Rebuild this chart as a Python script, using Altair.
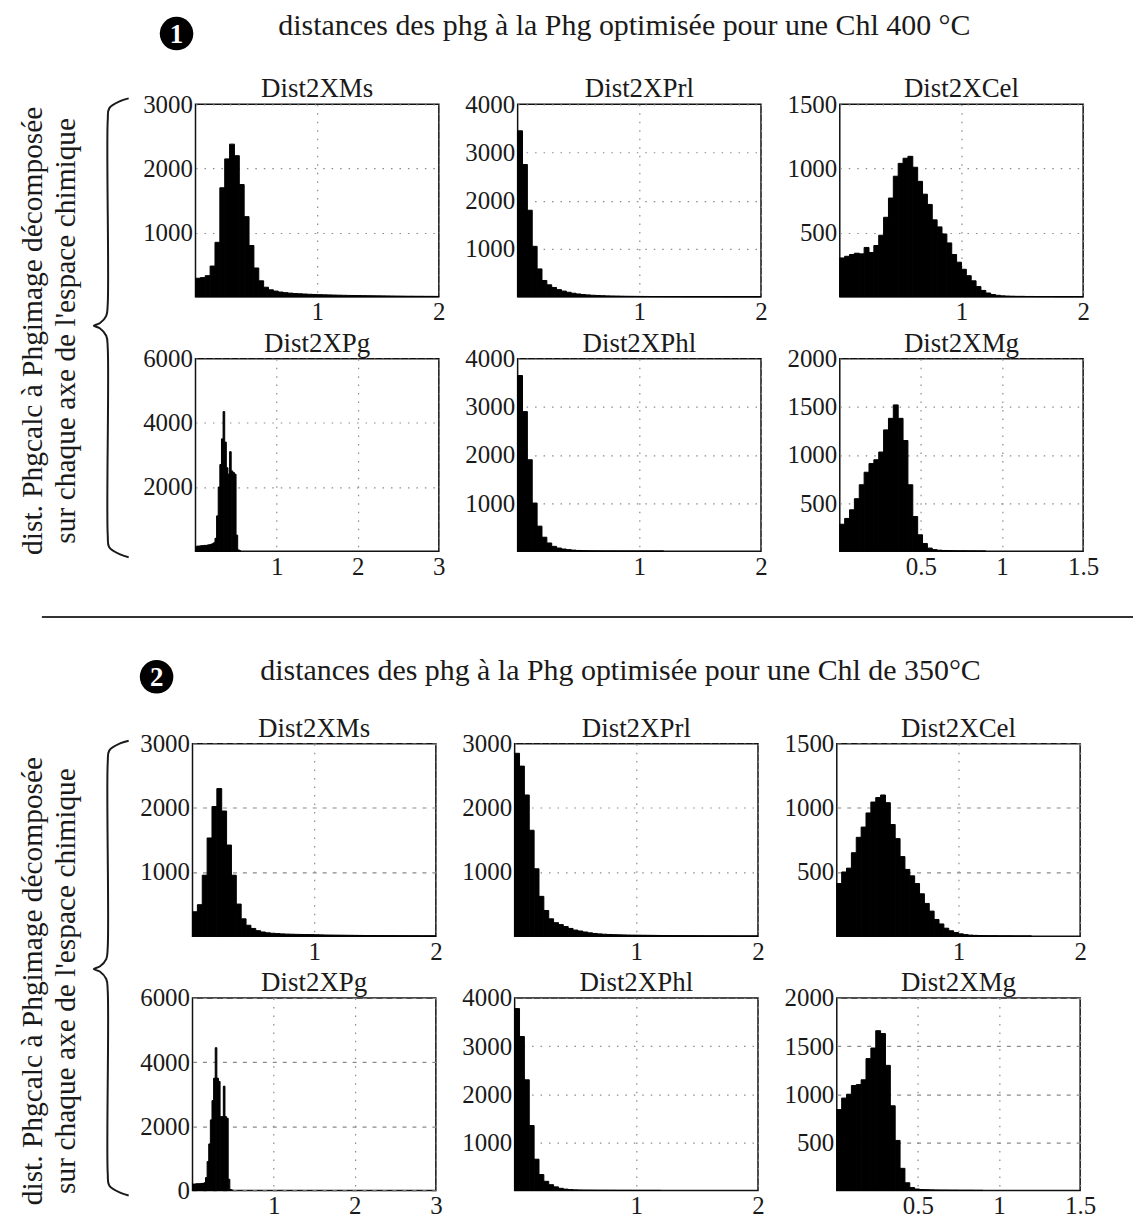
import altair as alt
import pandas as pd

FONT = "Liberation Serif"
INK = "#1a1a1a"

# ---------------- texts ----------------
section_titles = [
    "distances des phg à la Phg optimisée pour une Chl 400 °C",
    "distances des phg à la Phg optimisée pour une Chl de 350°C",
]
section_numbers = ["1", "2"]
side_label_1 = "dist. Phgcalc à Phgimage décomposée"
side_label_2 = "sur chaque axe de l'espace chimique"

# ---------------- panel definitions ----------------
panel_names = ["Dist2XMs", "Dist2XPrl", "Dist2XCel", "Dist2XPg", "Dist2XPhl", "Dist2XMg"]
x_max = [2, 2, 2, 3, 2, 1.5]
x_ticks = [[1, 2], [1, 2], [1, 2], [1, 2, 3], [1, 2], [0.5, 1, 1.5]]
bin_width = [0.04, 0.04, 0.04, 0.02, 0.04, 0.03]

s1_y_max = [3000, 4000, 1500, 6000, 4000, 2000]
s1_y_ticks = [[1000, 2000, 3000], [1000, 2000, 3000, 4000], [500, 1000, 1500],
              [2000, 4000, 6000], [1000, 2000, 3000, 4000], [500, 1000, 1500, 2000]]
s2_y_max = [3000, 3000, 1500, 6000, 4000, 2000]
s2_y_ticks = [[1000, 2000, 3000], [1000, 2000, 3000], [500, 1000, 1500],
              [0, 2000, 4000, 6000], [1000, 2000, 3000, 4000], [500, 1000, 1500, 2000]]

# ---------------- histogram counts ----------------
s1_xms = [290, 300, 330, 480, 850, 1700, 2150, 2380, 2200, 1750, 1250, 800, 450, 250, 150,
          110, 90, 75, 65, 58, 52, 48, 44, 40, 37, 34, 32, 30, 28, 26, 24, 22, 21, 20, 19,
          18, 17, 16, 15, 14, 13, 12, 11, 10, 10, 9, 9, 8, 8, 7]
s1_xprl = [3450, 2750, 1800, 1050, 580, 340, 250, 195, 150, 120, 95, 75, 60, 48, 40, 33, 28,
           24, 20, 18, 16, 14, 12, 11, 10, 9, 8, 7, 6, 6, 5, 5, 4, 4, 3, 3, 3, 2, 2, 2, 2, 2,
           1, 1, 1, 1, 1, 1, 1, 1]
s1_xcel = [303, 316, 330, 340, 335, 385, 345, 400, 480, 620, 770, 940, 1040, 1080, 1095,
           1010, 900, 800, 720, 600, 545, 490, 420, 330, 270, 215, 165, 125, 80, 50, 30, 18,
           12, 8, 6, 5, 4, 4, 3, 3, 2, 2, 2, 2, 1, 1, 1, 1, 1, 1]
s1_xpg = [150, 160, 160, 170, 170, 180, 180, 190, 200, 210, 230, 260, 400, 1100, 2000, 2700,
          3500, 4350, 3400, 2600, 2400, 3100, 2500, 2450, 2400, 500, 40, 10]
s1_xphl = [3650, 2900, 1900, 1000, 520, 290, 170, 100, 65, 45, 32, 22, 15, 10, 8, 6, 5, 4, 3,
           3, 2, 2, 2, 1, 1, 1, 1, 1, 1, 1]
s1_xmg = [280, 340, 430, 545, 690, 820, 910, 950, 1030, 1260, 1380, 1520, 1380, 1150, 690,
          360, 170, 80, 32, 16, 10, 7, 5, 4, 3, 3, 2, 2, 1, 1]

s2_xms = [380, 490, 950, 1530, 2020, 2300, 1950, 1420, 950, 500, 270, 170, 120, 85, 65, 52,
          45, 40, 35, 32, 30, 28, 26, 25, 24, 22, 20, 18, 17, 16, 15, 14, 13, 12, 11, 10, 10,
          9, 8, 8, 7, 7, 6, 6, 5, 5, 5, 4, 4, 4]
s2_xprl = [2850, 2650, 2200, 1650, 1050, 620, 400, 270, 210, 180, 150, 120, 95, 80, 65, 52,
           42, 35, 30, 26, 23, 21, 19, 17, 16, 15, 14, 13, 12, 11, 10, 9, 8, 8, 7, 6, 6, 5, 5,
           4, 4, 4, 3, 3, 3, 2, 2, 2, 2, 2]
s2_xcel = [410, 500, 530, 650, 770, 850, 960, 1045, 1080, 1100, 1040, 870, 760, 620, 520, 470,
           410, 330, 255, 195, 130, 95, 62, 42, 28, 18, 12, 8, 6, 5, 4, 3, 3, 2, 2, 2, 1, 1,
           1, 1]
s2_xpg = [200, 200, 210, 210, 210, 220, 220, 240, 400, 900, 1450, 2200, 2800, 3500, 4450,
          3500, 3400, 2300, 2300, 3250, 2300, 2250, 350, 30, 10]
s2_xphl = [3780, 3200, 2300, 1350, 650, 330, 190, 120, 75, 45, 28, 18, 12, 9, 7, 6, 5, 4, 4,
           3, 3, 2, 2, 2, 1, 1, 1, 1, 1, 1]
s2_xmg = [840, 960, 1000, 1090, 1100, 1150, 1370, 1480, 1660, 1630, 1300, 880, 520, 230, 80,
          30, 15, 10, 8, 6, 5, 4, 4, 3, 3, 2, 2, 2, 1, 1]

s1_counts = [s1_xms, s1_xprl, s1_xcel, s1_xpg, s1_xphl, s1_xmg]
s2_counts = [s2_xms, s2_xprl, s2_xcel, s2_xpg, s2_xphl, s2_xmg]

DOT = [1.5, 7]
DASH = [4, 6]
s1_ydash = [DOT, DOT, DOT, DOT, DOT, DOT]
s2_ydash = [DASH, DOT, DASH, DASH, DOT, DASH]

PW, PH = 244, 193


def panel(name, counts, w, xmax, xt, ymax, yt, ydash):
    df = pd.DataFrame({
        "x0": [round(i * w, 4) for i in range(len(counts))],
        "x1": [round((i + 1) * w, 4) for i in range(len(counts))],
        "n": counts,
        "base": [0] * len(counts),
    })
    return alt.Chart(df).mark_bar(color="black", stroke="black", strokeWidth=1).encode(
        x=alt.X("x0:Q", scale=alt.Scale(domain=[0, xmax], nice=False, zero=True),
                axis=alt.Axis(values=xt, title=None, format="~g", gridDash=DOT)),
        x2="x1:Q",
        y=alt.Y("n:Q", scale=alt.Scale(domain=[0, ymax], nice=False),
                axis=alt.Axis(values=yt, title=None, format="d", gridDash=ydash)),
        y2="base:Q",
    ).properties(
        width=PW, height=PH,
        title=alt.TitleParams(name, font=FONT, fontSize=27, fontWeight="normal",
                              color=INK, offset=-11, anchor="middle", frame="group"),
    )


def grid(counts, ymaxs, yticks, ydashes, sv, sh):
    ps = [panel(panel_names[i], counts[i], bin_width[i], x_max[i], x_ticks[i],
                ymaxs[i], yticks[i], ydashes[i]) for i in range(6)]
    r1 = alt.hconcat(ps[0], ps[1], ps[2], spacing=sh)
    r2 = alt.hconcat(ps[3], ps[4], ps[5], spacing=sh)
    return alt.vconcat(r1, r2, spacing=sv)


def side(W, H, tx1, tx2, ty, T, M, B, xr, xs, xt):
    pts = [(xr, T), (xr - 8, T + 2.5), (xs + 1.5, T + 10), (xs, T + 22),
           (xs, M - 22), (xs - 1.5, M - 10), (xt + 6, M - 2.5), (xt, M),
           (xt + 6, M + 2.5), (xs - 1.5, M + 10), (xs, M + 22),
           (xs, B - 22), (xs + 1.5, B - 10), (xr - 8, B - 2.5), (xr, B)]
    bdf = pd.DataFrame({"bx": [p[0] for p in pts], "by": [p[1] for p in pts],
                        "k": list(range(len(pts)))})
    brace = alt.Chart(bdf).mark_line(color=INK, strokeWidth=2,
                                     interpolate="catmull-rom").encode(
        x=alt.X("bx:Q", scale=alt.Scale(domain=[0, W], nice=False, zero=False), axis=None),
        y=alt.Y("by:Q", scale=alt.Scale(domain=[0, H], nice=False, zero=False, reverse=True),
                axis=None),
        order="k:Q",
    )
    t1 = alt.Chart(pd.DataFrame({"t": [side_label_1]})).mark_text(
        angle=270, font=FONT, fontSize=29.5, color=INK, align="center", baseline="middle"
    ).encode(x=alt.value(tx1), y=alt.value(ty), text="t:N")
    t2 = alt.Chart(pd.DataFrame({"t": [side_label_2]})).mark_text(
        angle=270, font=FONT, fontSize=29.5, color=INK, align="center", baseline="middle"
    ).encode(x=alt.value(tx2), y=alt.value(ty), text="t:N")
    return alt.layer(brace, t1, t2).properties(
        width=W, height=H, view=alt.ViewBackground(stroke="transparent"))


def header(num, title, H, cx, cy, tx, ty, rule_y=None):
    d = pd.DataFrame({"num": [num], "title": [title]})
    base = alt.Chart(d)
    circ = base.mark_point(filled=True, shape="circle", size=1130, color="black",
                           opacity=1, strokeWidth=0).encode(x=alt.value(cx), y=alt.value(cy))
    num_t = base.mark_text(color="white", font=FONT, fontSize=27, fontWeight="bold",
                           align="center", baseline="middle").encode(
        x=alt.value(cx), y=alt.value(cy + 1), text="num:N")
    ttl = base.mark_text(font=FONT, fontSize=30, color=INK, align="left",
                         baseline="alphabetic").encode(
        x=alt.value(tx), y=alt.value(ty), text="title:N")
    layers = [circ, num_t, ttl]
    if rule_y is not None:
        rule = base.mark_rule(color="#333", strokeWidth=2).encode(
            x=alt.value(33), x2=alt.value(1127), y=alt.value(rule_y))
        layers = [rule] + layers
    return alt.layer(*layers).properties(
        width=1127, height=H, view=alt.ViewBackground(stroke="transparent"))


# side-chart coordinates are relative to the top of the first panel row
h1 = header(section_numbers[0], section_titles[0], 62, 168, 22, 270, 23)
body1 = alt.hconcat(
    side(132, 440, 24, 57, 227, -6, 222, 454, 120, 99, 85),
    grid(s1_counts, s1_y_max, s1_y_ticks, s1_ydash, 3, 18),
    spacing=0,
)
h2 = header(section_numbers[1], section_titles[1], 132, 148, 96, 252, 99, rule_y=36)
body2 = alt.hconcat(
    side(129, 440, 24, 57, 238, -3, 226, 453, 120, 99, 85),
    grid(s2_counts, s2_y_max, s2_y_ticks, s2_ydash, 3, 18),
    spacing=0,
)

chart = alt.vconcat(h1, body1, h2, body2, spacing=0).properties(padding=0).configure_view(
    stroke="#111", strokeWidth=1.5
).configure_axis(
    labelFont=FONT, labelFontSize=25, labelColor=INK, ticks=False, domain=False,
    grid=True, gridColor="#8a8a8a", gridWidth=1.2, labelPadding=3, labelFlush=False,
)

chart.save("out.html", embed_options={"renderer": "svg", "actions": False})
